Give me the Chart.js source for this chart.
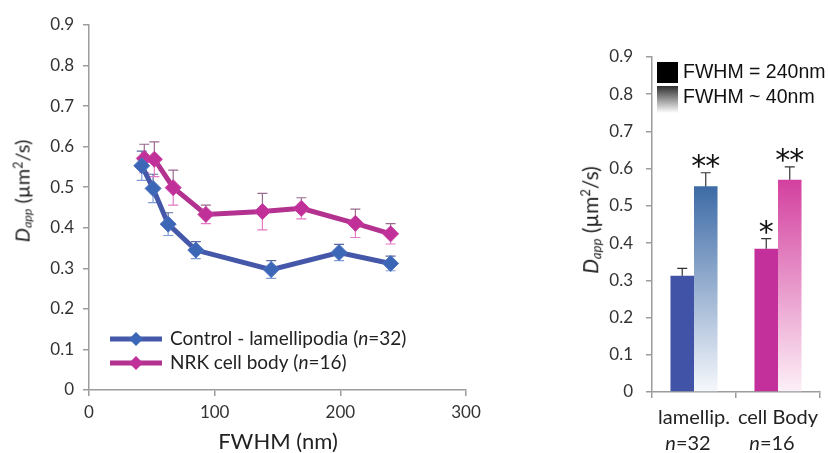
<!DOCTYPE html>
<html lang="en">
<head>
<meta charset="UTF-8">
<title>Dapp vs FWHM</title>
<script src="https://cdn.jsdelivr.net/npm/chart.js"></script>
<style>
  * { margin: 0; padding: 0; box-sizing: border-box; }
  body { background: #fff; width: 828px; height: 453px; overflow: hidden; font-family: Lato, sans-serif; color: #222; }
  #wrap { position: relative; width: 828px; height: 453px; }
  #leftChart { position: absolute; left: 0; top: 0; }
  #rightChart { position: absolute; left: 570px; top: 0; }
  .ytitle { position: absolute; white-space: nowrap; transform: translate(-50%, -50%) rotate(-90deg); font-size: 20px; line-height: 1; }
  .ytitle sub { font-size: 0.62em; vertical-align: -0.2em; }
  .ytitle sup { font-size: 0.62em; vertical-align: 0.6em; }
  .xtitle { position: absolute; white-space: nowrap; transform: translate(-50%, -50%); font-size: 22px; line-height: 1; }
</style>
</head>
<body>
<div id="wrap">
  <canvas id="leftChart" width="500" height="453"></canvas>
  <canvas id="rightChart" width="258" height="453"></canvas>
  <div class="ytitle" style="left:23px; top:191px;"><i>D</i><sub><i>app</i></sub> (µm<sup>2</sup>/s)</div>
  <div class="ytitle" style="left:591px; top:220px; font-size:21px;"><i>D</i><sub><i>app</i></sub> (µm<sup>2</sup>/s)</div>
  <div class="xtitle" style="left:278px; top:441px;">FWHM (nm)</div>
</div>

<script>
// left chart: Dapp against FWHM
const ctrlFwhm = [42, 51, 63, 85, 145, 199, 240];
const ctrlDapp = [0.553, 0.497, 0.409, 0.345, 0.297, 0.339, 0.312];
const ctrlErr  = [0.036, 0.035, 0.028, 0.021, 0.022, 0.020, 0.018];

const nrkFwhm = [44, 52, 67, 93, 138, 169, 212, 240];
const nrkDapp = [0.571, 0.569, 0.499, 0.433, 0.440, 0.448, 0.411, 0.385];
const nrkErr  = [0.035, 0.043, 0.043, 0.023, 0.045, 0.026, 0.035, 0.025];

// right chart: bars
const barCats = ['lamellip.', 'cell Body'];
const barN = ['32', '16'];
const bar240 = [0.312, 0.385];
const err240 = [0.020, 0.027];
const bar40 = [0.553, 0.570];
const err40 = [0.036, 0.035];
const stars240 = ['', '*'];
const stars40 = ['**', '**'];

const axisColor = '#9c9c9c';
const tickFont = { family: 'Lato', size: 17 };

function fmt(v) { return v === 0 ? '0' : v.toFixed(1); }

// draw text made of plain / italic pieces
function drawPieces(ctx, pieces, x, y, size, align) {
  let total = 0;
  const widths = pieces.map(p => {
    ctx.font = (p[1] ? 'italic ' : '') + size + 'px Lato';
    const w = ctx.measureText(p[0]).width;
    total += w;
    return w;
  });
  let cx = align === 'center' ? x - total / 2 : x;
  ctx.textAlign = 'left';
  pieces.forEach((p, i) => {
    ctx.font = (p[1] ? 'italic ' : '') + size + 'px Lato';
    ctx.fillText(p[0], cx, y);
    cx += widths[i];
  });
}

const errorBars = {
  id: 'errorBars',
  beforeDatasetsDraw(chart) {
    const ctx = chart.ctx;
    const y = chart.scales.y;
    chart.data.datasets.forEach((ds, i) => {
      const meta = chart.getDatasetMeta(i);
      meta.data.forEach((el, j) => {
        const v = typeof ds.data[j] === 'object' ? ds.data[j].y : ds.data[j];
        const e = ds.errors[j];
        const top = y.getPixelForValue(v + e);
        const mid = y.getPixelForValue(v);
        const bot = y.getPixelForValue(v - e);
        const cap = ds.capWidth;
        ctx.save();
        ctx.lineWidth = 1.2;
        ctx.strokeStyle = ds.errColors[0];
        ctx.beginPath();
        ctx.moveTo(el.x, mid); ctx.lineTo(el.x, top);
        ctx.moveTo(el.x - cap, top); ctx.lineTo(el.x + cap, top);
        ctx.stroke();
        ctx.strokeStyle = ds.errColors[1];
        ctx.beginPath();
        ctx.moveTo(el.x, mid); ctx.lineTo(el.x, bot);
        ctx.moveTo(el.x - cap, bot); ctx.lineTo(el.x + cap, bot);
        ctx.stroke();
        ctx.restore();
      });
    });
  }
};

const lineLegend = {
  id: 'lineLegend',
  afterDraw(chart) {
    const ctx = chart.ctx;
    const a = chart.chartArea;
    chart.data.datasets.forEach((ds, i) => {
      const ly = a.bottom - 51 + i * 24;
      ctx.save();
      ctx.strokeStyle = ds.borderColor;
      ctx.lineWidth = 5;
      ctx.beginPath();
      ctx.moveTo(a.left + 21, ly); ctx.lineTo(a.left + 73, ly);
      ctx.stroke();
      ctx.fillStyle = ds.pointBackgroundColor;
      ctx.beginPath();
      ctx.moveTo(a.left + 47 - 7, ly); ctx.lineTo(a.left + 47, ly - 7);
      ctx.lineTo(a.left + 47 + 7, ly); ctx.lineTo(a.left + 47, ly + 7);
      ctx.closePath(); ctx.fill();
      ctx.fillStyle = '#222';
      ctx.textBaseline = 'middle';
      drawPieces(ctx, [[ds.label + ' (', false], ['n', true], ['=' + ds.n + ')', false]], a.left + 81, ly, 19, 'left');
      ctx.restore();
    });
  }
};

new Chart(document.getElementById('leftChart'), {
  type: 'line',
  data: {
    datasets: [
      {
        label: 'Control - lamellipodia', n: 32,
        data: ctrlFwhm.map((x, i) => ({ x, y: ctrlDapp[i] })),
        errors: ctrlErr, capWidth: 5, errColors: ['#5a6a9e', '#7f9bd8'],
        borderColor: '#4457a8', pointBackgroundColor: '#3c66b6', pointBorderColor: '#4d72c2'
      },
      {
        label: 'NRK cell body', n: 16,
        data: nrkFwhm.map((x, i) => ({ x, y: nrkDapp[i] })),
        errors: nrkErr, capWidth: 5, errColors: ['#9a6a8e', '#e57ac6'],
        borderColor: '#b3318f', pointBackgroundColor: '#c12f99', pointBorderColor: '#c83ea2'
      }
    ]
  },
  options: {
    responsive: false,
    animation: false,
    layout: { padding: { top: 25, right: 34, left: 0, bottom: 0 } },
    plugins: { legend: { display: false }, tooltip: { enabled: false } },
    elements: {
      line: { borderWidth: 5, tension: 0 },
      point: { pointStyle: 'rectRot', radius: 8, borderWidth: 1 }
    },
    scales: {
      x: {
        type: 'linear', min: 0, max: 300,
        ticks: { stepSize: 100, color: '#333', font: tickFont, padding: 6, maxRotation: 0 },
        grid: { drawOnChartArea: false, tickLength: 6, color: axisColor, lineWidth: 1.5 },
        border: { color: axisColor, width: 1.5 },
        afterFit: s => { s.height = 63; }
      },
      y: {
        min: 0, max: 0.9,
        ticks: { stepSize: 0.1, color: '#333', font: tickFont, padding: 9, callback: fmt },
        grid: { drawOnChartArea: false, tickLength: 6, color: axisColor, lineWidth: 1.5 },
        border: { color: axisColor, width: 1.5 },
        afterFit: s => { s.width = 89; }
      }
    }
  },
  plugins: [errorBars, lineLegend]
});

// bar fill fading to white toward zero
function fadeFill(tops, bottoms) {
  return c => {
    const chart = c.chart;
    if (!chart.chartArea || c.type !== 'data') return tops[0];
    const y = chart.scales.y;
    const g = chart.ctx.createLinearGradient(0, y.getPixelForValue(c.raw), 0, y.getPixelForValue(0));
    g.addColorStop(0, tops[c.dataIndex]);
    g.addColorStop(1, bottoms[c.dataIndex]);
    return g;
  };
}

const barExtras = {
  id: 'barExtras',
  afterDraw(chart) {
    const ctx = chart.ctx;
    const a = chart.chartArea;
    const x = chart.scales.x;
    const y = chart.scales.y;
    ctx.save();
    // stars above error bars
    ctx.fillStyle = '#111';
    ctx.font = '30px "DejaVu Sans"';
    ctx.textAlign = 'center';
    ctx.textBaseline = 'alphabetic';
    const m = ctx.measureText('*');
    chart.data.datasets.forEach((ds, i) => {
      chart.getDatasetMeta(i).data.forEach((el, j) => {
        const s = ds.stars[j];
        if (!s) return;
        const top = y.getPixelForValue(ds.data[j] + ds.errors[j]);
        const by = top - 5 - m.actualBoundingBoxDescent;
        if (s.length === 1) ctx.fillText('*', el.x, by);
        else { ctx.fillText('*', el.x - 7, by); ctx.fillText('*', el.x + 7, by); }
      });
    });
    // category labels
    ctx.fillStyle = '#222';
    barCats.forEach((c, i) => {
      const cx = x.getPixelForValue(i);
      drawPieces(ctx, [[c, false]], cx, a.bottom + 32, 20, 'center');
      drawPieces(ctx, [['n', true], ['=' + barN[i], false]], cx - 6, a.bottom + 58, 20, 'center');
    });
    // legend
    const lx = a.left + 5;
    ctx.fillStyle = '#000';
    ctx.fillRect(lx, a.top + 5, 21, 21);
    const g = ctx.createLinearGradient(0, a.top + 29, 0, a.top + 56);
    g.addColorStop(0, '#2e2e2e');
    g.addColorStop(1, '#ffffff');
    ctx.fillStyle = g;
    ctx.fillRect(lx, a.top + 29, 21, 27);
    ctx.fillStyle = '#111';
    ctx.font = '19.5px "Liberation Sans"';
    ctx.textAlign = 'left';
    ctx.textBaseline = 'middle';
    chart.data.datasets.forEach((ds, i) => {
      ctx.fillText(ds.label, lx + 26, a.top + 16 + i * 25);
    });
    ctx.restore();
  }
};

new Chart(document.getElementById('rightChart'), {
  type: 'bar',
  data: {
    labels: barCats,
    datasets: [
      {
        label: 'FWHM = 240nm',
        data: bar240, errors: err240, stars: stars240, capWidth: 5, errColors: ['#333', '#333'],
        backgroundColor: ['#4053a6', '#c3309b'],
        categoryPercentage: 0.56, barPercentage: 1
      },
      {
        label: 'FWHM ~ 40nm',
        data: bar40, errors: err40, stars: stars40, capWidth: 5, errColors: ['#333', '#333'],
        backgroundColor: fadeFill(['#3d6ba6', '#d3409f'], ['#f6f8fc', '#fdf0f7']),
        categoryPercentage: 0.56, barPercentage: 1
      }
    ]
  },
  options: {
    responsive: false,
    animation: false,
    layout: { padding: { top: 57, right: 8, left: 0, bottom: 0 } },
    plugins: { legend: { display: false }, tooltip: { enabled: false } },
    scales: {
      x: {
        offset: true,
        ticks: { display: false },
        grid: { offset: true, drawOnChartArea: false, tickLength: 6, color: axisColor, lineWidth: 1.5 },
        border: { color: axisColor, width: 1.5 },
        afterFit: s => { s.height = 61; }
      },
      y: {
        min: 0, max: 0.9,
        ticks: { stepSize: 0.1, color: '#333', font: tickFont, padding: 13, callback: fmt },
        grid: { drawOnChartArea: false, tickLength: 6, color: axisColor, lineWidth: 1.5 },
        border: { color: axisColor, width: 1.5 },
        afterFit: s => { s.width = 82; }
      }
    }
  },
  plugins: [errorBars, barExtras]
});
</script>
</body>
</html>
